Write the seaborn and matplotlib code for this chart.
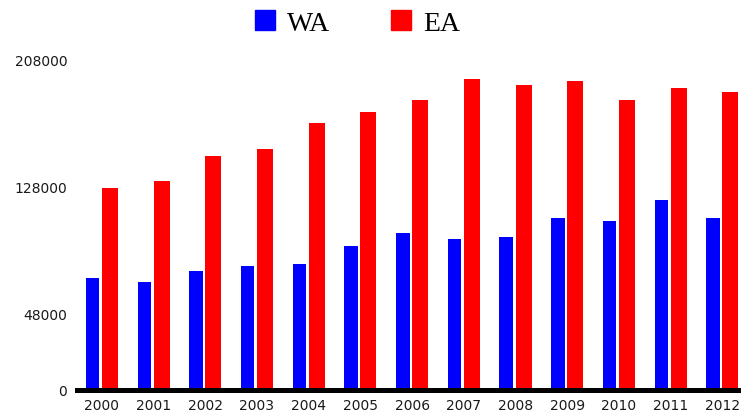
import numpy as np
import pandas as pd
import matplotlib
matplotlib.use('Agg')
import matplotlib.pyplot as plt
import seaborn as sns

years = ['2000', '2001', '2002', '2003', '2004', '2005', '2006',
         '2007', '2008', '2009', '2010', '2011', '2012']
wa = [70400, 68100, 74600, 78100, 79200, 90500, 98700,
      94900, 96300, 108100, 106000, 119400, 108100]
ea = [126900, 131100, 147200, 151300, 167800, 174700, 182200,
      195600, 191900, 194000, 182200, 189600, 187500]
series = ['WA', 'EA']
colors = ['#0000ff', '#ff0000']
y_ticks = [0, 48000, 128000, 208000]

sns.set_theme(style='white')
plt.rcParams['font.family'] = ['DejaVu Sans']

df = pd.DataFrame({'year': years * 2,
                   'value': wa + ea,
                   'series': ['WA'] * len(years) + ['EA'] * len(years)})

fig = plt.figure(figsize=(7.41, 4.14), dpi=100)
ax = fig.add_axes([77 / 741, 23 / 414, 664 / 741, 331 / 414])

sns.barplot(data=df, x='year', y='value', hue='series', hue_order=series,
            palette=colors, width=0.62, saturation=1, linewidth=0,
            ax=ax, legend=False)

# blue bars are a bit narrower than the red ones
for bar in ax.containers[0]:
    bar.set_width(0.26)

ax.set_xlim(-0.48, 12.36)
ax.set_ylim(0, 208000)
ax.set_yticks(y_ticks)
ax.set_yticklabels([str(v) for v in y_ticks])
ax.set_xlabel('')
ax.set_ylabel('')
ax.tick_params(axis='y', length=0, pad=7, labelsize=10, labelcolor='#1a1a1a')
ax.tick_params(axis='x', length=0, pad=6, labelsize=10, labelcolor='#1a1a1a')
for s in ['left', 'top', 'right']:
    ax.spines[s].set_visible(False)
ax.spines['bottom'].set_color('black')
ax.spines['bottom'].set_linewidth(3.6)
ax.spines['bottom'].set_zorder(5)

handles = [plt.Rectangle((0, 0), 1, 1, color=c) for c in colors]
leg = fig.legend(handles, series, loc='center', bbox_to_anchor=(357.5 / 741, 1 - 24 / 414),
                 ncol=2, frameon=False, prop={'family': 'Liberation Serif', 'size': 20},
                 handlelength=0.72, handleheight=0.72, handletextpad=0.42,
                 columnspacing=2.2, borderpad=0)
for t in leg.get_texts():
    t.set_color('black')

fig.savefig('out.png', dpi=100)
